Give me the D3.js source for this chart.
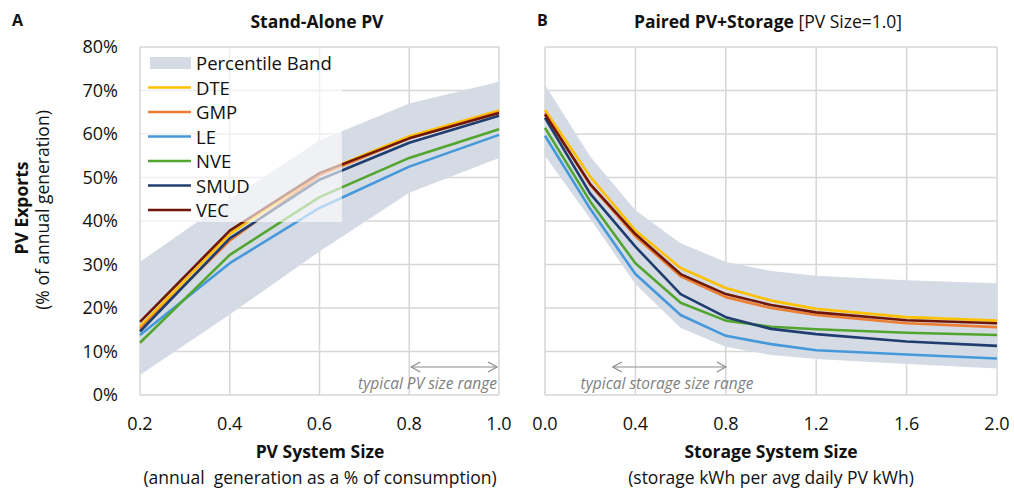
<!DOCTYPE html>
<html>
<head>
<meta charset="utf-8">
<script src="https://cdn.jsdelivr.net/npm/d3@7"></script>
<style>
  body { margin: 0; background: #fff; }
  text { font-family: "Open Sans", "Noto Sans", sans-serif; fill: #111; }
</style>
</head>
<body>
<script>
const W = 1014;
const H = 490;

const utilities = ['DTE', 'GMP', 'LE', 'NVE', 'SMUD', 'VEC'];
const colors = ['#FFC000', '#ED7D31', '#4599DB', '#52A52E', '#1F3D6E', '#6E1608'];

// panel A: stand-alone PV
const pvSizes = [0.2, 0.4, 0.6, 0.8, 1.0];
const pvDTE = [15.7, 37.0, 51.0, 59.5, 65.4];
const pvGMP = [15.2, 35.5, 50.5, 59.0, 65.0];
const pvLE = [13.8, 30.3, 43.0, 52.5, 59.8];
const pvNVE = [12.0, 32.2, 45.5, 54.5, 61.1];
const pvSMUD = [14.6, 36.0, 49.5, 58.0, 64.2];
const pvVEC = [16.8, 37.8, 51.0, 59.0, 64.8];
const pvBandLow = [4.6, 18.5, 33.0, 46.5, 54.5];
const pvBandHigh = [30.6, 45.0, 58.5, 67.0, 72.0];

// panel B: paired PV+storage
const stSizes = [0.0, 0.2, 0.4, 0.6, 0.8, 1.0, 1.2, 1.6, 2.0];
const stDTE = [65.5, 50.2, 37.8, 29.2, 24.6, 21.7, 19.8, 17.9, 17.1];
const stGMP = [64.8, 48.3, 36.5, 27.3, 22.5, 20.0, 18.4, 16.5, 15.6];
const stLE = [59.6, 42.8, 27.8, 18.4, 13.6, 11.7, 10.3, 9.3, 8.4];
const stNVE = [61.4, 44.5, 30.3, 21.2, 17.1, 15.7, 15.1, 14.3, 13.8];
const stSMUD = [63.7, 46.3, 34.1, 23.2, 17.9, 15.2, 14.0, 12.3, 11.3];
const stVEC = [64.5, 48.5, 37.0, 27.8, 23.2, 20.7, 19.0, 17.2, 16.5];
const stBandLow = [55.0, 40.5, 25.5, 15.4, 11.1, 9.2, 8.3, 7.1, 6.1];
const stBandHigh = [71.3, 54.8, 42.5, 34.9, 30.6, 28.5, 27.4, 26.4, 25.7];

const yTicks = [0, 10, 20, 30, 40, 50, 60, 70, 80];
const pvTicks = [0.2, 0.4, 0.6, 0.8, 1.0];
const stTicks = [0.0, 0.4, 0.8, 1.2, 1.6, 2.0];

const svg = d3.select('body').append('svg')
  .attr('width', W)
  .attr('height', H);

const y = d3.scaleLinear().domain([0, 80]).range([395, 47]);

function panel(opts) {
  const x = d3.scaleLinear().domain(opts.domain).range(opts.range);
  const g = svg.append('g');

  // grid
  g.selectAll('.hg').data(yTicks).enter().append('line')
    .attr('x1', opts.range[0]).attr('x2', opts.range[1])
    .attr('y1', d => y(d)).attr('y2', d => y(d))
    .attr('stroke', '#D6D6D6').attr('stroke-width', 1.5);
  g.selectAll('.vg').data(opts.ticks).enter().append('line')
    .attr('x1', d => x(d)).attr('x2', d => x(d))
    .attr('y1', y(0)).attr('y2', y(80))
    .attr('stroke', '#D6D6D6').attr('stroke-width', 1.5);

  // band
  const area = d3.area()
    .x((d, i) => x(opts.xs[i]))
    .y0(d => y(d[0]))
    .y1(d => y(d[1]));
  g.append('path')
    .datum(opts.low.map((v, i) => [v, opts.high[i]]))
    .attr('d', area)
    .attr('fill', '#D5DBE4');

  // lines
  const line = d3.line().x((d, i) => x(opts.xs[i])).y(d => y(d));
  opts.series.forEach((s, i) => {
    g.append('path').datum(s).attr('d', line)
      .attr('fill', 'none').attr('stroke', colors[i]).attr('stroke-width', 2.6)
      .attr('stroke-linejoin', 'round');
  });

  // x tick labels
  g.selectAll('.xt').data(opts.ticks).enter().append('text')
    .attr('x', d => x(d)).attr('y', 430)
    .attr('text-anchor', 'middle').attr('font-size', 18)
    .text(d => d.toFixed(1));

  return x;
}

const xA = panel({
  domain: [0.2, 1.0], range: [140, 499], ticks: pvTicks, xs: pvSizes,
  low: pvBandLow, high: pvBandHigh,
  series: [pvDTE, pvGMP, pvLE, pvNVE, pvSMUD, pvVEC]
});

const xB = panel({
  domain: [0, 2.0], range: [545, 997], ticks: stTicks, xs: stSizes,
  low: stBandLow, high: stBandHigh,
  series: [stDTE, stGMP, stLE, stNVE, stSMUD, stVEC]
});

// y tick labels
svg.selectAll('.yt').data(yTicks).enter().append('text')
  .attr('x', 118).attr('y', d => y(d) + 6)
  .attr('text-anchor', 'end').attr('font-size', 18)
  .text(d => d + '%');

// legend (semi-transparent box over panel A)
const leg = svg.append('g');
leg.append('rect')
  .attr('x', 141).attr('y', 48).attr('width', 201).attr('height', 174)
  .attr('fill', '#fff').attr('opacity', 0.62);
leg.append('rect')
  .attr('x', 150).attr('y', 57).attr('width', 41).attr('height', 12)
  .attr('fill', '#D5DBE4');
leg.append('text').attr('x', 196).attr('y', 70).attr('font-size', 18.5).text('Percentile Band');
utilities.forEach((u, i) => {
  const yy = 87.5 + i * 24.5;
  leg.append('line').attr('x1', 148).attr('x2', 191).attr('y1', yy).attr('y2', yy)
    .attr('stroke', colors[i]).attr('stroke-width', 2.6);
  leg.append('text').attr('x', 196).attr('y', yy + 7).attr('font-size', 18.5).text(u);
});

// typical range annotations
function rangeArrow(x0, x1, yy) {
  const a = svg.append('g').attr('stroke', '#8C8C8C').attr('stroke-width', 1.2).attr('fill', 'none');
  a.append('line').attr('x1', x0).attr('x2', x1).attr('y1', yy).attr('y2', yy);
  a.append('path').attr('d', `M${x0 + 9},${yy - 5} L${x0},${yy} L${x0 + 9},${yy + 5}`);
  a.append('path').attr('d', `M${x1 - 9},${yy - 5} L${x1},${yy} L${x1 - 9},${yy + 5}`);
}
rangeArrow(xA(0.8) + 2, xA(1.0) - 2, 367);
svg.append('text').attr('x', 497).attr('y', 389).attr('text-anchor', 'end')
  .attr('font-size', 15.5).attr('font-style', 'italic').style('fill', '#7F7F7F')
  .text('typical PV size range');
rangeArrow(xB(0.3), xB(0.8), 367);
svg.append('text').attr('x', 667).attr('y', 389).attr('text-anchor', 'middle')
  .attr('font-size', 15.5).attr('font-style', 'italic').style('fill', '#7F7F7F')
  .text('typical storage size range');

// titles
svg.append('text').attr('x', 12).attr('y', 26).attr('font-size', 16).attr('font-weight', 'bold').text('A');
svg.append('text').attr('x', 537).attr('y', 26).attr('font-size', 16).attr('font-weight', 'bold').text('B');
svg.append('text').attr('x', 317).attr('y', 28).attr('text-anchor', 'middle')
  .attr('font-size', 17.5).attr('font-weight', 'bold').text('Stand-Alone PV');
const tB = svg.append('text').attr('x', 768).attr('y', 28).attr('text-anchor', 'middle').attr('font-size', 17.5);
tB.append('tspan').attr('font-weight', 'bold').text('Paired PV+Storage');
tB.append('tspan').text(' [PV Size=1.0]');

// axis titles
svg.append('text').attr('transform', 'translate(28,208) rotate(-90)').attr('text-anchor', 'middle')
  .attr('font-size', 17.5).attr('font-weight', 'bold').text('PV Exports');
svg.append('text').attr('transform', 'translate(49,210) rotate(-90)').attr('text-anchor', 'middle')
  .attr('font-size', 17.5).text('(% of annual generation)');

svg.append('text').attr('x', 320).attr('y', 458).attr('text-anchor', 'middle')
  .attr('font-size', 17.5).attr('font-weight', 'bold').text('PV System Size');
svg.append('text').attr('x', 320).attr('y', 484).attr('text-anchor', 'middle')
  .attr('font-size', 17.5).text('(annual  generation as a % of consumption)').style('white-space', 'pre');
svg.append('text').attr('x', 771).attr('y', 458).attr('text-anchor', 'middle')
  .attr('font-size', 17.5).attr('font-weight', 'bold').text('Storage System Size');
svg.append('text').attr('x', 771).attr('y', 484).attr('text-anchor', 'middle')
  .attr('font-size', 17.5).text('(storage kWh per avg daily PV kWh)');
</script>
</body>
</html>
